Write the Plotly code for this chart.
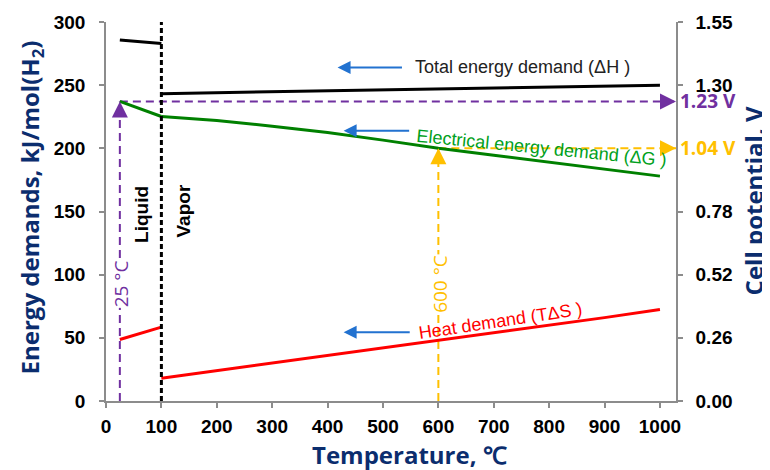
import plotly.graph_objects as go

# ---------------- data ----------------
T_liquid = [25, 50, 75, 100]
dH_liquid = [285.8, 284.9, 283.9, 283.0]
dG_liquid = [237.1, 233.0, 229.0, 225.2]
TdS_liquid = [48.7, 52.0, 55.3, 58.5]

T_vapor = [100, 200, 300, 400, 500, 600, 700, 800, 900, 1000]
dH_vapor = [243.3, 244.1, 244.9, 245.6, 246.4, 247.1, 247.9, 248.6, 249.3, 250.0]
dG_vapor = [225.2, 222.0, 217.5, 212.5, 206.5, 200.0, 194.5, 189.0, 183.5, 178.0]
TdS_vapor = [18.0, 24.0, 30.0, 36.0, 41.6, 47.5, 53.5, 59.5, 66.0, 72.5]

x_ticks = [0, 100, 200, 300, 400, 500, 600, 700, 800, 900, 1000]
energy_ticks = [0, 50, 100, 150, 200, 250, 300]
cell_tick_pos = [0, 50, 100, 150, 250, 300]
cell_tick_text = ["0.00", "0.26", "0.52", "0.78", "1.30", "1.55"]

T_phase = 100          # liquid / vapor boundary
T_refs = [25, 600]     # marked temperatures
V_refs = ["1.23 V", "1.04 V"]
ref_labels = ["25 °C", "600 °C"]
ref_colors = ["#7030a0", "#ffc000"]

X_MAX = 1029
Y_MAX = 300

NAVY = "#0b2d6e"
AXIS_GREY = "#8c8c8c"
TICK_FONT = dict(family="Liberation Sans, Arial", size=19, color="black", weight="bold")
TITLE_FONT = dict(family="Open Sans", size=24, color=NAVY, weight="bold")

fig = go.Figure()

# reference dashed lines (25 C and 600 C)
ref_G = [dG_liquid[T_liquid.index(25)], dG_vapor[T_vapor.index(600)]]
for T, G, col in zip(T_refs, ref_G, ref_colors):
    fig.add_trace(go.Scatter(x=[T, T], y=[0, G], mode="lines",
                             line=dict(color=col, width=2, dash="8px,5px"),
                             showlegend=False, hoverinfo="skip"))
    fig.add_trace(go.Scatter(x=[T, X_MAX], y=[G, G], mode="lines",
                             line=dict(color=col, width=2, dash="8px,5px"),
                             showlegend=False, hoverinfo="skip"))

# data lines
for xs, ys, col in [
    (T_liquid, dH_liquid, "black"), (T_vapor, dH_vapor, "black"),
    (T_liquid, dG_liquid, "#008000"), (T_vapor, dG_vapor, "#008000"),
    (T_liquid, TdS_liquid, "#ff0000"), (T_vapor, TdS_vapor, "#ff0000"),
]:
    fig.add_trace(go.Scatter(x=xs, y=ys, mode="lines",
                             line=dict(color=col, width=3),
                             showlegend=False, hoverinfo="skip"))

# phase boundary
fig.add_trace(go.Scatter(x=[T_phase, T_phase], y=[0, Y_MAX], mode="lines",
                         line=dict(color="black", width=3, dash="5px,3px"),
                         showlegend=False, hoverinfo="skip", cliponaxis=False))

# invisible trace for secondary axis
fig.add_trace(go.Scatter(x=[0], y=[0], yaxis="y2", mode="markers",
                         marker=dict(opacity=0), showlegend=False, hoverinfo="skip"))

annotations = []

# arrowheads + labels for reference lines
for T, G, col, vtxt, lab in zip(T_refs, ref_G, ref_colors, V_refs, ref_labels):
    annotations.append(dict(x=T, y=G, xref="x", yref="y", ax=0, ay=14,
                            showarrow=True, arrowhead=2, arrowsize=1.6,
                            arrowwidth=2, arrowcolor=col, text=""))
    annotations.append(dict(x=X_MAX, y=G, xref="x", yref="y", ax=-14, ay=0,
                            showarrow=True, arrowhead=2, arrowsize=1.6,
                            arrowwidth=2, arrowcolor=col, text=""))
    annotations.append(dict(x=1, y=G, xref="paper", yref="y", xanchor="left",
                            yanchor="middle", xshift=2, showarrow=False, text=vtxt,
                            font=dict(family="Open Sans", size=19, color=col, weight="bold")))
    annotations.append(dict(x=T, y=93, xref="x", yref="y", showarrow=False,
                            text=lab, textangle=-90, bgcolor="white", borderpad=0,
                            xshift=1,
                            font=dict(family="Open Sans", size=19, color=col)))

# Liquid / Vapor
annotations.append(dict(x=63, y=148, xref="x", yref="y", showarrow=False, text="Liquid",
                        textangle=-90,
                        font=dict(family="Liberation Sans", size=19, color="black", weight="bold")))
annotations.append(dict(x=139, y=150, xref="x", yref="y", showarrow=False, text="Vapor",
                        textangle=-90,
                        font=dict(family="Liberation Sans", size=19, color="black", weight="bold")))

# curve labels with blue arrows
BLUE = "#2272d0"
for (hx, tx, ay_) in [(418, 537, 264), (429, 550, 214), (429, 551, 54.5)]:
    annotations.append(dict(x=hx, y=ay_, ax=tx, ay=ay_, xref="x", yref="y",
                            axref="x", ayref="y", showarrow=True, arrowhead=2,
                            arrowsize=1.3, arrowwidth=2, arrowcolor=BLUE, text=""))

annotations.append(dict(x=751, y=264.5, xref="x", yref="y", showarrow=False,
                        text="Total energy demand (ΔH )",
                        font=dict(family="Liberation Sans", size=18, color="#222222")))
annotations.append(dict(x=787, y=200, xref="x", yref="y", showarrow=False,
                        text="Electrical energy demand (ΔG )", textangle=5.6,
                        font=dict(family="Liberation Sans", size=18, color="#00a020")))
annotations.append(dict(x=712, y=63, xref="x", yref="y", showarrow=False,
                        text="Heat demand (TΔS )", textangle=-8.5,
                        font=dict(family="Liberation Sans", size=18, color="#ff0000")))

# axis titles
annotations.append(dict(x=-0.1316, y=0.5106, xref="paper", yref="paper", showarrow=False,
                        xanchor="center", yanchor="middle",
                        text="Energy demands, kJ/mol(H<sub>2</sub>)", textangle=-90,
                        font=TITLE_FONT))
annotations.append(dict(x=1.136, y=0.528, xref="paper", yref="paper", showarrow=False,
                        xanchor="center", yanchor="middle",
                        text="Cell potential, V", textangle=-90, font=TITLE_FONT))
annotations.append(dict(x=0.533, y=-0.14, xref="paper", yref="paper", showarrow=False,
                        xanchor="center", yanchor="middle",
                        text="Temperature, ℃", font=TITLE_FONT))

axis_common = dict(showgrid=False, zeroline=False, showline=True, linecolor=AXIS_GREY,
                   linewidth=1.5, ticks="outside", ticklen=5, tickcolor=AXIS_GREY,
                   tickwidth=1.5, tickfont=TICK_FONT, automargin=False)

fig.update_layout(
    width=770, height=470,
    margin=dict(l=98, r=102, t=14, b=77, autoexpand=False),
    paper_bgcolor="white", plot_bgcolor="white",
    xaxis=dict(range=[0, X_MAX], tickvals=x_ticks, ticklabelstandoff=2, **axis_common),
    yaxis=dict(range=[0, Y_MAX], tickvals=energy_ticks, ticklabelstandoff=10, **axis_common),
    yaxis2=dict(range=[0, Y_MAX], overlaying="y", side="right", anchor="x",
                tickvals=cell_tick_pos, ticktext=cell_tick_text, ticklabelstandoff=9,
                **axis_common),
    annotations=annotations,
    showlegend=False,
)

fig.write_html("out.html")
